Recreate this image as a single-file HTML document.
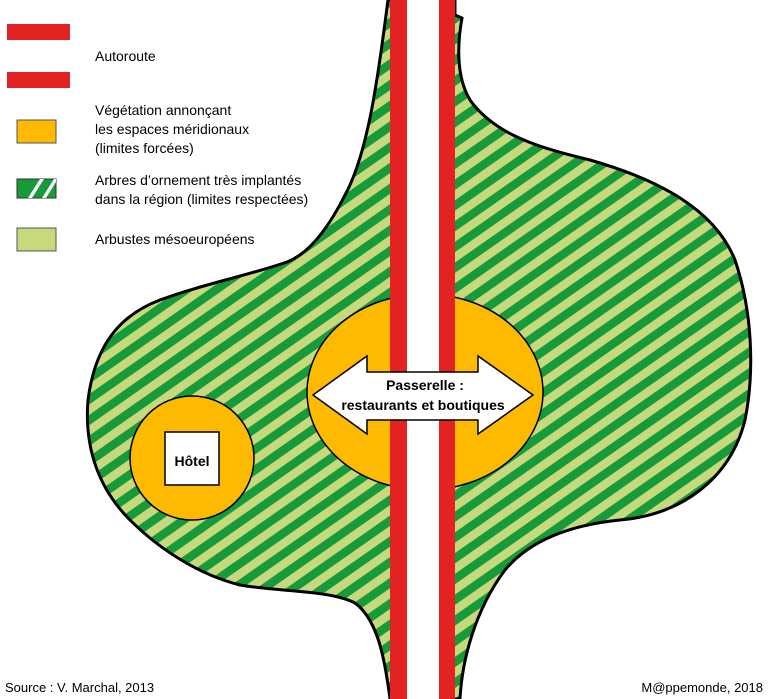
<!DOCTYPE html>
<html><head><meta charset="utf-8"><style>
html,body{margin:0;padding:0;background:#fff;}
svg{display:block;}
text{font-family:"Liberation Sans",sans-serif;}
</style></head><body>
<svg width="768" height="699" viewBox="0 0 768 699" xmlns="http://www.w3.org/2000/svg">
<defs>
<pattern id="st" patternUnits="userSpaceOnUse" width="17" height="17" patternTransform="rotate(-35)">
<rect width="17" height="17" fill="#c6d97c"/>
<rect width="17" height="8.5" fill="#169a3a"/>
</pattern>
</defs>
<path d="M388,0 C380,60 370,150 345,195 C325,235 305,255 287,262 C250,275 200,285 160,300 C120,315 95,345 88,400 C84,450 100,490 130,520 C160,550 200,575 240,585 C280,592 330,590 355,603 C378,620 385,660 390,699 L460,699 C462,660 475,610 505,570 C530,540 570,525 620,520 C680,515 730,480 745,420 C755,370 752,310 735,260 C715,210 660,180 590,160 C540,148 495,135 470,100 C455,75 458,40 462,18 L455,15 L455,0 Z" fill="url(#st)" stroke="#000" stroke-width="3"/>
<circle cx="192" cy="458" r="62" fill="#fdba00" stroke="#000" stroke-width="1.5"/>
<rect x="165" y="432" width="54" height="53" fill="#fff" stroke="#000" stroke-width="1.5"/>
<text x="192" y="466" text-anchor="middle" font-size="14" font-weight="bold">Hôtel</text>
<ellipse cx="425" cy="392" rx="118" ry="98" fill="#fdba00" stroke="#000" stroke-width="1.5"/>
<rect x="390" y="0" width="17" height="699" fill="#e32222"/>
<rect x="407" y="0" width="32" height="699" fill="#fff"/>
<rect x="439" y="0" width="16" height="699" fill="#e32222"/>
<path d="M313,395 L367,356 L367,372 L478,372 L478,356 L533,395 L478,434 L478,420 L367,420 L367,434 Z" fill="#fff" stroke="#000" stroke-width="1.5"/>
<text x="425" y="390" text-anchor="middle" font-size="14" font-weight="bold">Passerelle :</text>
<text x="423" y="410" text-anchor="middle" font-size="14" font-weight="bold">restaurants et boutiques</text>
<rect x="7" y="24" width="63" height="16" fill="#e32222"/>
<rect x="7" y="72" width="63" height="16" fill="#e32222"/>
<text x="95" y="61" font-size="14">Autoroute</text>
<rect x="17" y="120" width="39" height="23" fill="#fdba00" stroke="#555" stroke-width="1"/>
<text x="95" y="115" font-size="14">Végétation annonçant</text>
<text x="95" y="134" font-size="14">les espaces méridionaux</text>
<text x="95" y="153" font-size="14">(limites forcées)</text>
<rect x="17" y="179" width="39" height="19" fill="#169a3a" stroke="#333" stroke-width="1"/>
<path d="M28,198 L40,179 L44,179 L32,198 Z M42,198 L54,179 L56,179 L56,182 L46,198 Z" fill="#fff"/>
<text x="95" y="185" font-size="14">Arbres d’ornement très implantés</text>
<text x="95" y="204" font-size="14">dans la région (limites respectées)</text>
<rect x="17" y="228" width="39" height="23" fill="#c6d97c" stroke="#555" stroke-width="1"/>
<text x="95" y="244" font-size="14">Arbustes mésoeuropéens</text>
<text x="5" y="692" font-size="13">Source : V. Marchal, 2013</text>
<text x="763" y="692" font-size="13" text-anchor="end">M@ppemonde, 2018</text>
</svg>
</body></html>
